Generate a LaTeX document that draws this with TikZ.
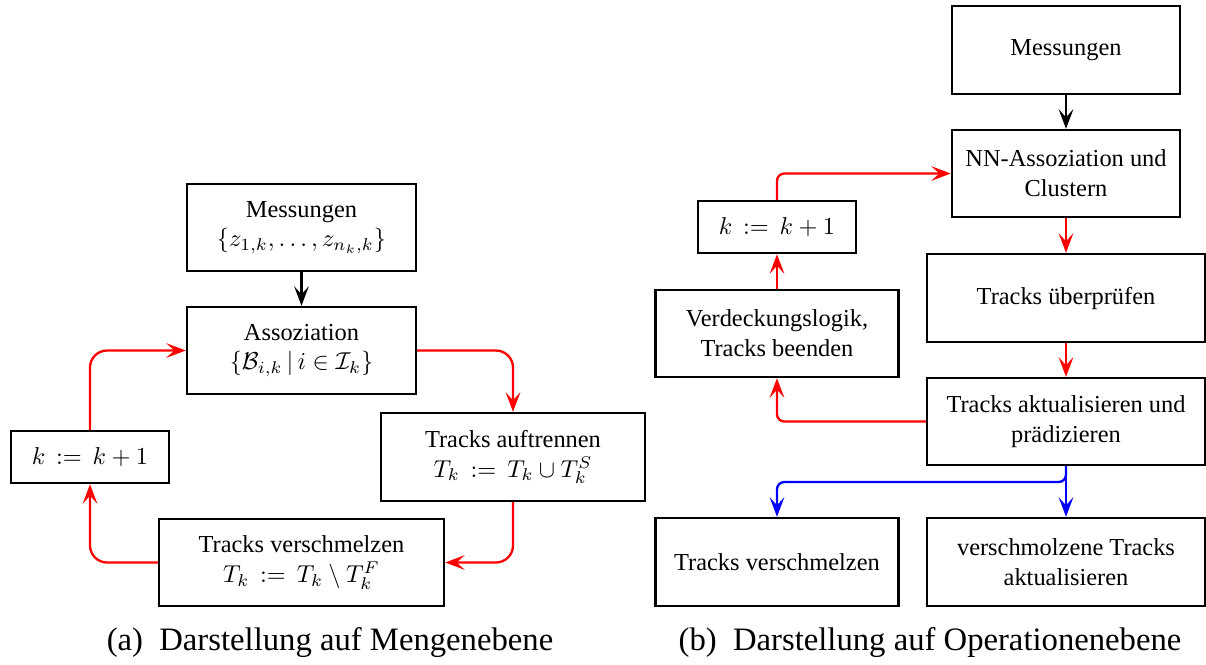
\documentclass[tikz,border=0pt]{standalone}
\usepackage[no-math]{fontspec}
\setmainfont{Liberation Serif}
\usetikzlibrary{arrows.meta}
\newcommand{\deq}{\mathrel{\,:=\,}}
\begin{document}
\begin{tikzpicture}[x=0.41pt,y=-0.41pt,
  box/.style={draw,line width=1pt,align=center,inner sep=0pt,font=\fontsize{10}{12.2}\selectfont},
  wh/.style 2 args={minimum width=#1*0.41pt,minimum height=#2*0.41pt},
  conn/.style={line width=0.95pt,-{Stealth[length=8pt,width=6pt,inset=3.3pt]}},
  captext/.style={anchor=base,inner sep=0pt,font=\fontsize{13.4}{16}\selectfont}]
\useasboundingbox (0,0) rectangle (1206,664);
% ---------- (a) ----------
\node[box,wh={229}{87}] (lmess) at (301.5,227.5) {Messungen\\$\{z_{1,k},\ldots,z_{n_k,k}\}$};
\node[box,wh={229}{87}] (lass) at (301.5,350.5) {Assoziation\\$\{\mathcal{B}_{i,k}\,|\,i\in\mathcal{I}_k\}$};
\node[box,wh={264}{88}] (lauf) at (513,457) {Tracks auftrennen\\$T_k \deq T_k\cup T_k^S$};
\node[box,wh={158}{52}] (lk) at (90,457) {$k \deq k+1$};
\node[box,wh={285}{87}] (lver) at (301.5,562.5) {Tracks verschmelzen\\$T_k \deq T_k\setminus T_k^F$};
\draw[conn] (lmess) -- (lass);
\draw[conn,red,rounded corners=7pt] (lass.east) -| (lauf.north);
\draw[conn,red,rounded corners=7pt] (lauf.south) |- (lver.east);
\draw[conn,red,rounded corners=7pt] (lver.west) -| (lk.south);
\draw[conn,red,rounded corners=7pt] (lk.north) |- (lass.west);
\node[captext] (capa) at (330,650) {(a)\enspace Darstellung auf Mengenebene};
% ---------- (b) ----------
\node[box,wh={228}{88}] (rmess) at (1066,50) {Messungen};
\node[box,wh={228}{87}] (rnn) at (1066,173.5) {NN-Assoziation und\\Clustern};
\node[box,wh={158}{52}] (rk) at (777,227) {$k \deq k+1$};
\node[box,wh={278}{88}] (rcheck) at (1066,298) {Tracks überprüfen};
\node[box,wh={243}{87}] (rocc) at (777,333.5) {Verdeckungslogik,\\Tracks beenden};
\node[box,wh={278}{87}] (rupd) at (1066,421.5) {Tracks aktualisieren und\\prädizieren};
\node[box,wh={243}{88}] (rmerge) at (777,562) {Tracks verschmelzen};
\node[box,wh={278}{88}] (rmupd) at (1066,562) {verschmolzene Tracks\\aktualisieren};
\coordinate (bj) at (1066,482);
\draw[conn] (rmess) -- (rnn);
\draw[conn,red] (rnn) -- (rcheck);
\draw[conn,red] (rcheck) -- (rupd);
\draw[conn,red,rounded corners=3pt] (rupd.west) -| (rocc.south);
\draw[conn,red] (rocc) -- (rk);
\draw[conn,red,rounded corners=3pt] (rk.north) |- (rnn.west);
\draw[conn,blue] (rupd.south) -- (rmupd.north);
\draw[conn,blue,rounded corners=3pt] (rupd.south) -- (bj) -| (rmerge.north);
\node[captext] (capb) at (930,650) {(b)\enspace Darstellung auf Operationenebene};
\end{tikzpicture}
\end{document}
